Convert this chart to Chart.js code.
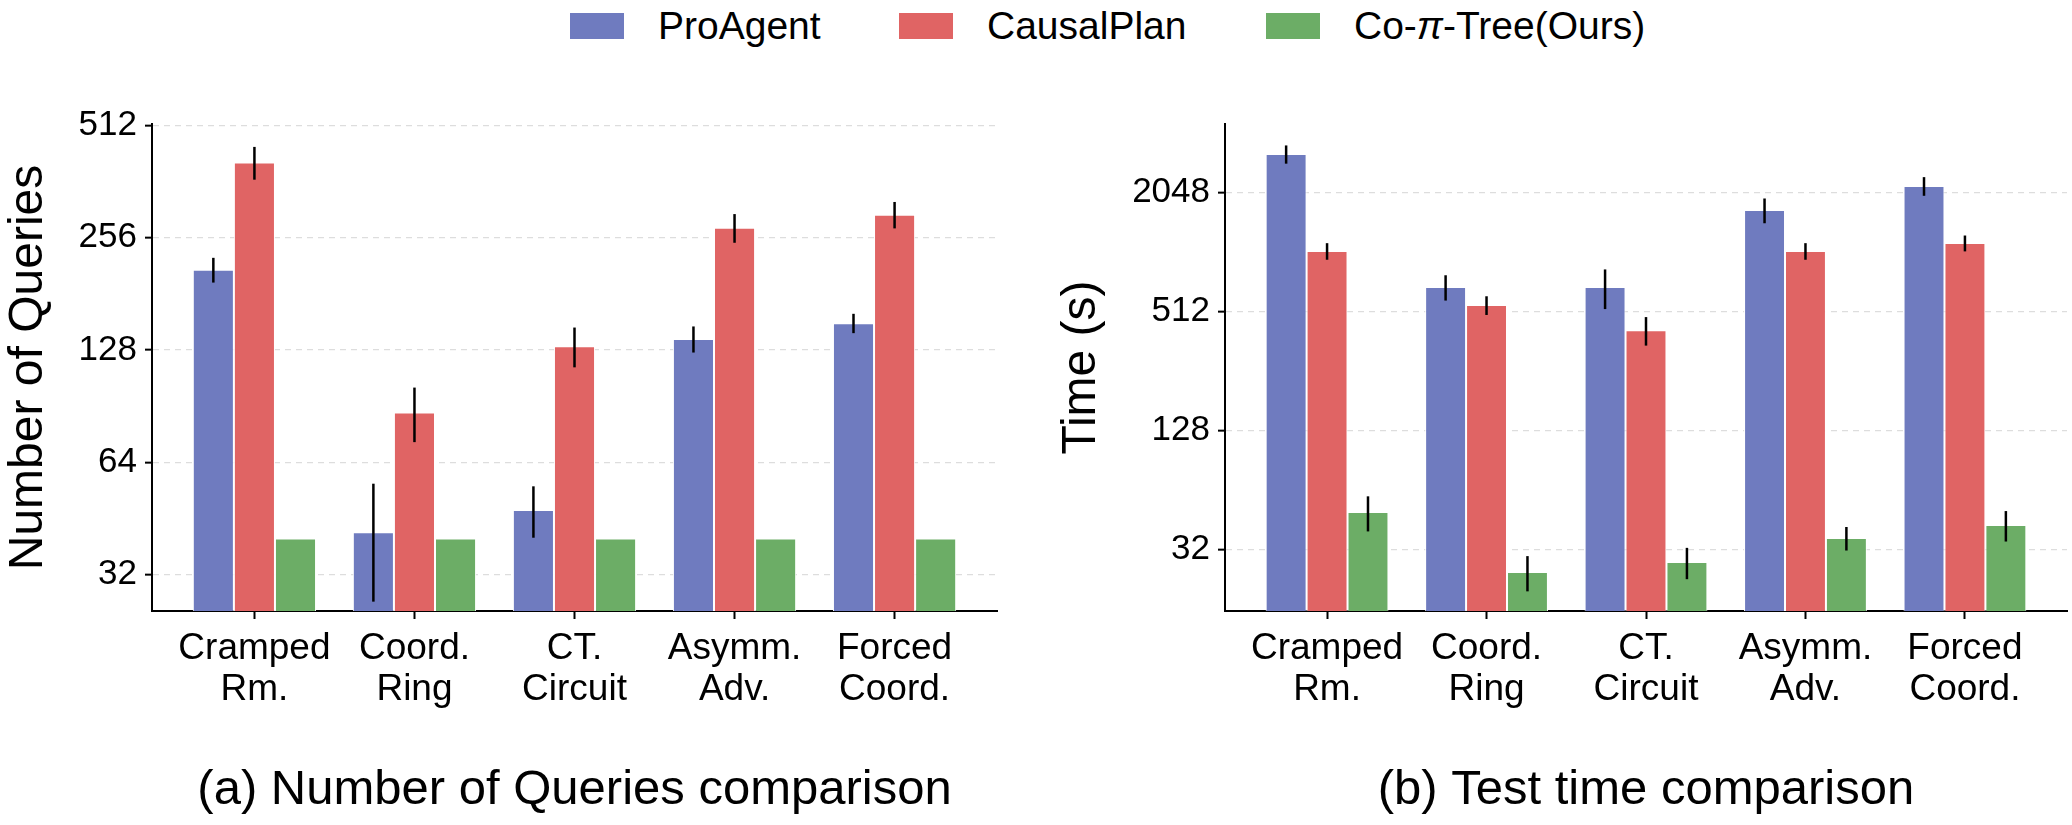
<!DOCTYPE html>
<html>
<head>
<meta charset="utf-8">
<script src="https://cdn.jsdelivr.net/npm/chart.js@4/dist/chart.umd.min.js"></script>
<style>
    body { margin: 0; background: #fff; width: 2072px; height: 825px; position: relative; overflow: hidden;
           font-family: "Liberation Sans", Arial, sans-serif; }
    canvas { position: absolute; top: 0; }
    #graf1 { left: 0; }
    #graf2 { left: 1020px; }
    .leg-box { position: absolute; top: 13px; width: 54px; height: 26px; }
    .leg-txt { position: absolute; top: 6px; font-size: 39px; line-height: 39px; color: #000; white-space: nowrap; }
</style>
</head>
<body>
<div id="legenda"></div>
<canvas id="graf1" width="1010" height="825"></canvas>
<canvas id="graf2" width="1052" height="825"></canvas>
<script>
// categorias (eixo X)
var categorias = [['Cramped', 'Rm.'], ['Coord.', 'Ring'], ['CT.', 'Circuit'], ['Asymm.', 'Adv.'], ['Forced', 'Coord.']];
var series = ['ProAgent', 'CausalPlan', 'Co-π-Tree(Ours)'];
var cores = ['#6F7BBF', '#E06464', '#6CAD66'];

// (a) numero de consultas
var queries_proagent = [210, 41.6, 47.7, 137, 151];
var queries_causal = [407, 87, 131, 272, 295];
var queries_ours = [40, 40, 40, 40, 40];
var queries_err_proagent = [16, 14.5, 7.5, 11, 9];
var queries_err_causal = [41, 14.5, 16, 24, 24];
var queries_err_ours = [0, 0, 0, 0, 0];
var queries_ticks = [32, 64, 128, 256, 512];

// (b) tempo de teste
var time_proagent = [3213, 683, 683, 1675, 2216];
var time_causal = [1038, 553, 413, 1038, 1139];
var time_ours = [49.6, 24.7, 27.7, 36.7, 42.7];
var time_err_proagent = [340, 100, 155, 240, 240];
var time_err_causal = [100, 60, 68, 100, 105];
var time_err_ours = [10, 5, 5, 5, 7.5];
var time_ticks = [32, 128, 512, 2048];

var fonte = '"Liberation Sans", Arial, sans-serif';

// legenda em html
var legendaX = [570, 899, 1266];
var leg = document.getElementById('legenda');
series.forEach(function (s, i) {
    var box = document.createElement('div');
    box.className = 'leg-box';
    box.style.left = legendaX[i] + 'px';
    box.style.background = cores[i];
    leg.appendChild(box);
    var txt = document.createElement('div');
    txt.className = 'leg-txt';
    txt.style.left = (legendaX[i] + 88) + 'px';
    txt.innerHTML = s.replace('π', '<i>π</i>');
    leg.appendChild(txt);
});

// barras de erro
var barrasErro = {
    id: 'barrasErro',
    afterDatasetsDraw: function (chart) {
        var ctx = chart.ctx;
        var y = chart.scales.y;
        ctx.save();
        ctx.strokeStyle = '#000';
        ctx.lineWidth = 2.5;
        chart.data.datasets.forEach(function (ds, i) {
            chart.getDatasetMeta(i).data.forEach(function (bar, j) {
                var e = ds.erros[j];
                if (!e) return;
                var v = ds.data[j];
                ctx.beginPath();
                ctx.moveTo(bar.x, y.getPixelForValue(v + e));
                ctx.lineTo(bar.x, y.getPixelForValue(v - e));
                ctx.stroke();
            });
        });
        ctx.restore();
    }
};

function montaGrafico(id, dados, erros, ticksY, minY, maxY, tituloY, tituloX, larguraY, padTituloY, padDir) {
    return new Chart(document.getElementById(id), {
        type: 'bar',
        data: {
            labels: categorias.map(function (c, i) { return i; }),
            datasets: series.map(function (s, i) {
                return {
                    label: s,
                    data: dados[i],
                    erros: erros[i],
                    backgroundColor: cores[i],
                    borderColor: '#ffffff',
                    borderWidth: 1,
                    categoryPercentage: 0.77,
                    barPercentage: 1.0
                };
            })
        },
        options: {
            responsive: false,
            animation: false,
            layout: { padding: { top: 124, right: padDir, left: 0, bottom: 0 } },
            plugins: { legend: { display: false }, tooltip: { enabled: false } },
            scales: {
                x: {
                    type: 'linear',
                    min: -0.64,
                    max: 4.64,
                    offset: false,
                    afterBuildTicks: function (s) {
                        s.ticks = categorias.map(function (c, i) { return { value: i }; });
                    },
                    afterFit: function (s) { s.height = 214; },
                    grid: { drawOnChartArea: false, offset: false, color: '#000', tickColor: '#000', tickLength: 8, tickWidth: 2 },
                    border: { display: true, color: '#000', width: 2 },
                    ticks: {
                        font: { family: fonte, size: 37, lineHeight: 1.12 },
                        color: '#000',
                        padding: 9,
                        maxRotation: 0,
                        autoSkip: false,
                        callback: function (v) { return categorias[v]; }
                    },
                    title: { display: true, text: tituloX, color: '#000', font: { family: fonte, size: 49 }, padding: { top: 0, bottom: 5.6 } }
                },
                y: {
                    type: 'logarithmic',
                    min: minY,
                    max: maxY,
                    afterBuildTicks: function (s) {
                        s.ticks = ticksY.map(function (v) { return { value: v }; });
                    },
                    afterFit: function (s) { s.width = larguraY; },
                    grid: { color: '#dddddd', lineWidth: 1.3, tickColor: '#000', tickLength: 7, tickWidth: 2 },
                    border: { display: true, color: '#000', width: 2, dash: [6, 5] },
                    ticks: {
                        font: { family: fonte, size: 35 },
                        color: '#000',
                        padding: 8,
                        callback: function (v) { return String(v); }
                    },
                    title: { display: true, text: tituloY, color: '#000', font: { family: fonte, size: 48 }, padding: { top: padTituloY, bottom: 0 } }
                }
            }
        },
        plugins: [barrasErro]
    });
}

//grafico 1 = numero de consultas
var graf1 = montaGrafico('graf1',
    [queries_proagent, queries_causal, queries_ours],
    [queries_err_proagent, queries_err_causal, queries_err_ours],
    queries_ticks, 25.58, 516, 'Number of Queries', '(a) Number of Queries comparison', 152, 0.2, 13);

//grafico 2 = tempo
var graf2 = montaGrafico('graf2',
    [time_proagent, time_causal, time_ours],
    [time_err_proagent, time_err_causal, time_err_ours],
    time_ticks, 15.67, 4561, 'Time (s)', '(b) Test time comparison', 205, 33.2, 5);
</script>
</body>
</html>
